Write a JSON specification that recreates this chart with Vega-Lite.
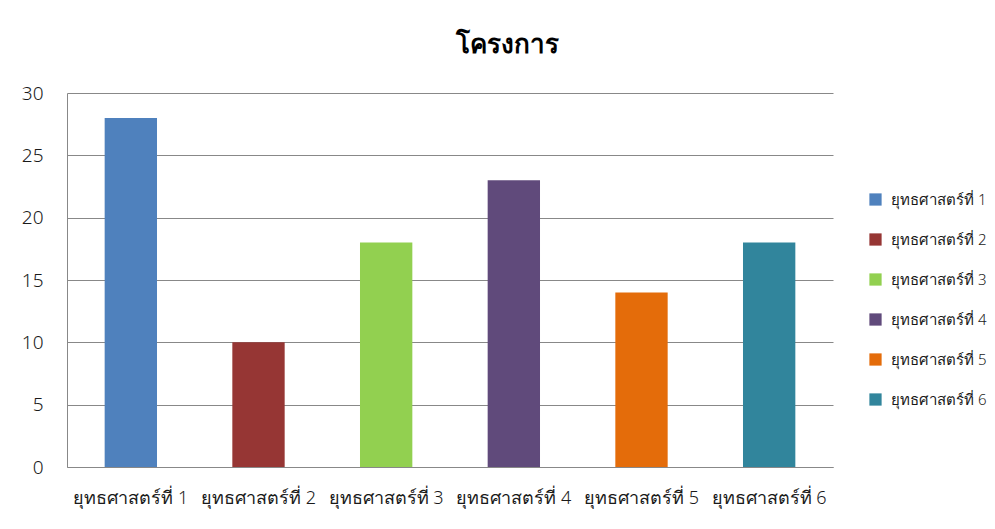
{
  "$schema": "https://vega.github.io/schema/vega-lite/v6.json",
  "autosize": "none",
  "width": 766,
  "height": 374,
  "padding": {"left": 67, "top": 93, "right": 162, "bottom": 62},
  "background": "white",
  "title": {
    "text": "โครงการ",
    "fontSize": 26,
    "fontWeight": "bold",
    "font": "Noto Sans",
    "color": "#000000",
    "anchor": "middle",
    "frame": "group",
    "dx": 57,
    "offset": 26
  },
  "data": {
    "values": [
      {"cat": "ยุทธศาสตร์ที่ 1", "value": 28},
      {"cat": "ยุทธศาสตร์ที่ 2", "value": 10},
      {"cat": "ยุทธศาสตร์ที่ 3", "value": 18},
      {"cat": "ยุทธศาสตร์ที่ 4", "value": 23},
      {"cat": "ยุทธศาสตร์ที่ 5", "value": 14},
      {"cat": "ยุทธศาสตร์ที่ 6", "value": 18}
    ]
  },
  "mark": {"type": "bar"},
  "encoding": {
    "x": {
      "field": "cat",
      "type": "nominal",
      "sort": null,
      "scale": {"paddingInner": 0.59, "paddingOuter": 0.295},
      "axis": {
        "title": null,
        "labelAngle": 0,
        "labelFontSize": 18,
        "labelFont": "Noto Sans",
        "labelFontWeight": 300,
        "labelColor": "#1a1a1a",
        "labelPadding": 22,
        "ticks": false,
        "domainColor": "#888888",
        "domainWidth": 1
      }
    },
    "y": {
      "field": "value",
      "type": "quantitative",
      "scale": {"domain": [0, 30], "nice": false},
      "axis": {
        "title": null,
        "values": [0, 5, 10, 15, 20, 25, 30],
        "labelFontSize": 19,
        "labelFont": "Noto Sans",
        "labelFontWeight": 300,
        "labelColor": "#1a1a1a",
        "labelPadding": 24,
        "ticks": false,
        "grid": true,
        "gridColor": "#888888",
        "gridWidth": 1,
        "domainColor": "#888888",
        "domainWidth": 1
      }
    },
    "color": {
      "field": "cat",
      "type": "nominal",
      "sort": null,
      "scale": {
        "range": ["#4F81BD", "#963634", "#92D050", "#604A7B", "#E46C0A", "#31859C"]
      },
      "legend": {
        "title": null,
        "orient": "none",
        "legendX": 801,
        "legendY": 99,
        "symbolType": "square",
        "symbolSize": 150,
        "symbolStrokeWidth": 0,
        "labelFontSize": 15,
        "labelFont": "Noto Sans",
        "labelFontWeight": 300,
        "labelColor": "#1a1a1a",
        "labelOffset": 8,
        "rowPadding": 24,
        "labelLimit": 200
      }
    }
  },
  "config": {
    "view": {"stroke": null}
  }
}
